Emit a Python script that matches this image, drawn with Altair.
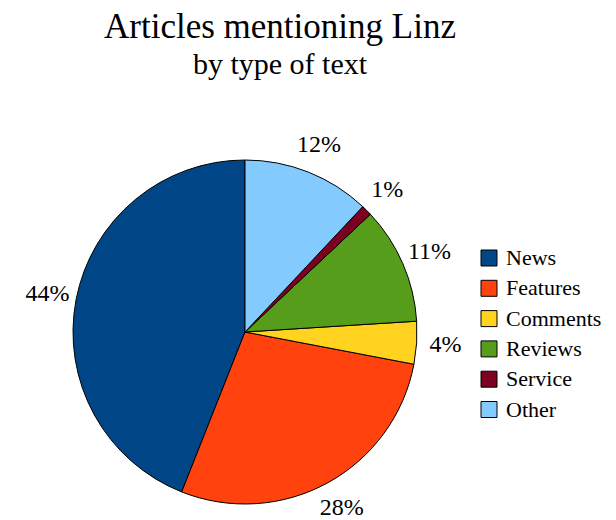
import altair as alt
import pandas as pd

# Data
categories = ["News", "Features", "Comments", "Reviews", "Service", "Other"]
shares = [44, 28, 4, 11, 1, 12]
labels = ["44%", "28%", "4%", "11%", "1%", "12%"]
colors = ["#004586", "#ff420e", "#ffd320", "#579d1c", "#7e0021", "#83caff"]

n = len(categories)
df = pd.DataFrame({
    "type": categories,
    "share": shares,
    "label": labels,
    # slices run counter-clockwise from 12 o'clock in legend order
    "ord": [n - 1 - i for i in range(n)],
})

FONT = "Liberation Serif"
PAD_TOP = 100
W, H = 544, 504 - PAD_TOP
CX, CY = 237, 332 - 8 - PAD_TOP

base = alt.Chart(df).encode(
    theta=alt.Theta("share:Q", stack=True),
    order=alt.Order("ord:Q"),
)

arcs = base.mark_arc(outerRadius=172, stroke="black", strokeWidth=1, x=CX, y=CY).encode(
    color=alt.Color(
        "type:N",
        scale=alt.Scale(domain=categories, range=colors),
        legend=alt.Legend(
            title=None,
            orient="none",
            legendX=470,
            legendY=247 - 8 - PAD_TOP,
            symbolType="square",
            symbolSize=256,
            symbolStrokeColor="black",
            symbolStrokeWidth=1,
            labelFont=FONT,
            labelFontSize=22,
            labelColor="black",
            labelOffset=6,
            rowPadding=8.3,
        ),
    )
)

text = base.mark_text(
    radius=201, x=CX, y=CY, font=FONT, fontSize=24, color="black",
    align="center", baseline="middle",
).encode(text="label:N")

chart = (arcs + text).properties(
    width=W,
    height=H,
    title=alt.TitleParams(
        "Articles mentioning Linz",
        subtitle="by type of text",
        font=FONT,
        fontSize=35,
        fontWeight="normal",
        color="black",
        subtitleFont=FONT,
        subtitleFontSize=30,
        subtitleColor="black",
        subtitlePadding=5,
        offset=28,
        anchor="middle",
    ),
    padding={"left": 0, "top": PAD_TOP, "right": 56, "bottom": 8},
    autosize=alt.AutoSizeParams(type="none"),
).configure_view(stroke=None)

chart.save("out.html", embed_options={"renderer": "svg", "actions": False})
